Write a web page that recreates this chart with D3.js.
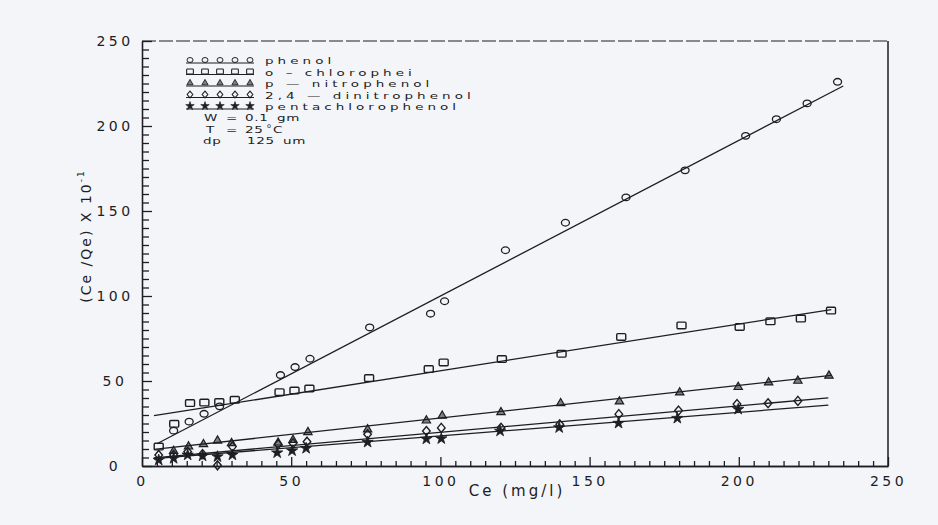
<!DOCTYPE html>
<html>
<head>
<meta charset="utf-8">
<script src="https://cdn.jsdelivr.net/npm/d3@7/dist/d3.min.js"></script>
<style>
  html, body { margin: 0; padding: 0; background: #f4f5f9; }
  svg { display: block; }
  text { font-family: "DejaVu Sans", sans-serif; fill: #1d1d24; }
</style>
</head>
<body>
<script>
// Adsorption isotherm data: Ce (mg/l) against Ce/Qe (x 10^-1)
const phenolCe   = [10.6, 15.8, 20.8, 26, 46.4, 51.3, 56.3, 76.3, 96.7, 101.4, 121.8, 141.9, 162.2, 182, 202.3, 212.6, 222.9, 233.1];
const phenolY    = [20.8, 26.1, 30.7, 35.1, 53.5, 58.2, 63.1, 81.5, 89.6, 96.9, 126.9, 143.1, 158, 173.9, 194.2, 204, 213.3, 226];

const chloroCe   = [5.6, 10.8, 16.1, 20.9, 25.9, 31.1, 46.1, 51.1, 56.1, 76.1, 96.1, 101.1, 120.6, 140.6, 160.6, 180.8, 200.3, 210.6, 220.8, 230.9];
const chloroY    = [11.4, 24.8, 37, 37.3, 37.6, 38.9, 43.4, 44.4, 45.6, 51.7, 57, 60.9, 62.9, 66, 75.9, 82.7, 81.8, 85.1, 86.7, 91.4];

const nitroCe    = [10.6, 15.6, 20.6, 25.3, 30, 45.6, 50.6, 55.6, 75.6, 95.3, 100.6, 120.3, 140.3, 160, 180.2, 199.8, 210, 219.8, 230.2];
const nitroY     = [8.8, 11.4, 12.8, 14.9, 13.4, 13.7, 15.3, 19.9, 21.5, 26.7, 29.5, 31.6, 36.9, 37.9, 43.2, 46.4, 49.1, 50.1, 53.1];

const dinitroCe  = [5.6, 10.6, 15.3, 20.3, 25.3, 30.3, 45.6, 50.6, 55.3, 75.6, 95.3, 100.3, 120.3, 140, 159.8, 179.8, 199.4, 209.8, 219.8];
const dinitroY   = [6.5, 6.5, 8.4, 7, 0.4, 11.4, 12.8, 13.4, 14.3, 18.7, 20.6, 22.4, 22.5, 24.5, 30.5, 32.6, 36.4, 36.9, 38.3];

const pentaCe    = [5.6, 10.6, 15.3, 20.3, 25.3, 30.3, 45.3, 50.3, 55, 75.6, 95.3, 100.3, 120, 139.8, 159.7, 179.4, 199.8];
const pentaY     = [3.5, 4.5, 6.5, 5.9, 5.5, 6.5, 7.8, 9, 10.4, 14, 15.9, 16.1, 20.6, 22.6, 25.2, 28.1, 33.4];

// Linear fits: [intercept, slope, first Ce, last Ce]
const phenolFit  = [8.5, 0.915, 5, 235];
const chloroFit  = [28.5, 0.275, 4, 231];
const nitroFit   = [9, 0.192, 4, 231];
const dinitroFit = [4.2, 0.156, 4, 230];
const pentaFit   = [3.8, 0.139, 4, 230];

const seriesNames = ["phenol", "o  \u2013  chlorophei", "p  \u2014  nitrophenol", "2,4  \u2014  dinitrophenol", "pentachlorophenol"];
const xTickLabels = [0, 50, 100, 150, 200, 250];
const yTickLabels = [0, 50, 100, 150, 200, 250];

const W = 938, H = 525;
const svg = d3.select("body").append("svg").attr("width", W).attr("height", H);

const x = d3.scaleLinear().domain([0, 250]).range([142, 888]);
const y = d3.scaleLinear().domain([0, 250]).range([466, 41]);

const ink = "#1d1d24";

// wide plotter-style lettering: a normal font stretched horizontally
function wideText(parent, tx, ty, str, size, spacing, sx) {
  return parent.append("text")
    .attr("transform", `translate(${tx},${ty}) scale(${sx},0.95)`)
    .attr("font-size", size).attr("letter-spacing", spacing).text(str);
}

// ---- axes ----
const gx = svg.append("g").attr("transform", `translate(0,${y(0)})`);
gx.call(d3.axisBottom(x).tickValues(d3.range(0, 251, 5).filter(v => v % 50 !== 0))
  .tickSize(-5).tickSizeOuter(0).tickFormat(""));
const gx2 = svg.append("g").attr("transform", `translate(0,${y(0)})`);
gx2.call(d3.axisBottom(x).tickValues(xTickLabels).tickSize(-9).tickSizeOuter(0).tickPadding(9)
  .tickFormat(d3.format("d")));
gx2.selectAll("text").attr("font-size", 14).attr("letter-spacing", 3.5)
  .attr("dy", "0.75em").style("font-family", "DejaVu Sans");

const gy = svg.append("g").attr("transform", `translate(${x(0)},0)`);
gy.call(d3.axisLeft(y).tickValues(d3.range(0, 251, 5).filter(v => v % 50 !== 0))
  .tickSize(-7).tickSizeOuter(0).tickFormat(""));
const gy2 = svg.append("g").attr("transform", `translate(${x(0)},0)`);
gy2.call(d3.axisLeft(y).tickValues(yTickLabels).tickSize(-10).tickSizeOuter(0).tickFormat(d3.format("d")));
gy2.selectAll("text").attr("font-size", 14).attr("letter-spacing", 3.5)
  .attr("text-anchor", "middle").attr("x", -27).style("font-family", "DejaVu Sans");

svg.selectAll(".domain, .tick line").attr("stroke", ink).attr("stroke-width", 1.3);
svg.selectAll(".tick text").attr("fill", ink);

// frame: dashed top, solid right
svg.append("line").attr("x1", x(0)).attr("x2", x(250)).attr("y1", y(250)).attr("y2", y(250))
  .attr("stroke", ink).attr("stroke-width", 1.2).attr("stroke-dasharray", "14,3");
svg.append("line").attr("x1", x(250)).attr("x2", x(250)).attr("y1", y(250)).attr("y2", y(0))
  .attr("stroke", ink).attr("stroke-width", 1.5);

// axis titles
svg.append("text").attr("x", 517).attr("y", 496).attr("text-anchor", "middle")
  .attr("font-size", 15).attr("letter-spacing", 3).text("Ce  (mg/l)");
const yt = svg.append("text").attr("transform", "translate(91,236) rotate(-90)")
  .attr("text-anchor", "middle").attr("font-size", 14).attr("letter-spacing", 2);
yt.append("tspan").text("(Ce /Qe) X 10");
yt.append("tspan").attr("font-size", 9).attr("dy", -7).text("-1");

// ---- marker shapes ----
function drawMarker(g, kind, cx, cy) {
  if (kind === 0) {
    g.append("ellipse").attr("cx", cx).attr("cy", cy).attr("rx", 4).attr("ry", 3.3)
      .attr("fill", "none").attr("stroke", ink).attr("stroke-width", 1.3);
  } else if (kind === 1) {
    g.append("rect").attr("x", cx - 4.5).attr("y", cy - 3.3).attr("width", 9).attr("height", 6.6)
      .attr("rx", 1).attr("fill", "none").attr("stroke", ink).attr("stroke-width", 1.4);
  } else if (kind === 2) {
    g.append("path").attr("d", d3.symbol(d3.symbolTriangle, 30)())
      .attr("transform", `translate(${cx},${cy})`)
      .attr("fill", ink).attr("fill-opacity", 0.55).attr("stroke", ink).attr("stroke-width", 1.2);
  } else if (kind === 3) {
    g.append("path").attr("d", `M${cx},${cy - 4.5}L${cx + 3.8},${cy}L${cx},${cy + 4.5}L${cx - 3.8},${cy}Z`)
      .attr("fill", "none").attr("stroke", ink).attr("stroke-width", 1.4);
  } else {
    g.append("path").attr("d", d3.symbol(d3.symbolStar, 40)())
      .attr("transform", `translate(${cx},${cy})`)
      .attr("fill", ink).attr("stroke", ink).attr("stroke-width", 0.8);
  }
}

const series = [
  { ce: phenolCe,  v: phenolY,  fit: phenolFit },
  { ce: chloroCe,  v: chloroY,  fit: chloroFit },
  { ce: nitroCe,   v: nitroY,   fit: nitroFit },
  { ce: dinitroCe, v: dinitroY, fit: dinitroFit },
  { ce: pentaCe,   v: pentaY,   fit: pentaFit }
];

const plot = svg.append("g");
const line = d3.line().x(d => x(d[0])).y(d => y(d[1]));
series.forEach((s, i) => {
  const [b, m, x0, x1] = s.fit;
  plot.append("path").datum([[x0, b + m * x0], [x1, b + m * x1]])
    .attr("d", line).attr("fill", "none").attr("stroke", ink).attr("stroke-width", 1.3);
  const g = plot.append("g");
  s.ce.forEach((c, j) => drawMarker(g, i, x(c), y(s.v[j])));
});

// ---- legend ----
const legend = svg.append("g");
const rowY = [60, 71.5, 83, 94.5, 106];
seriesNames.forEach((name, i) => {
  const ly = rowY[i];
  legend.append("line").attr("x1", 186).attr("x2", 254).attr("y1", ly + 3).attr("y2", ly + 3)
    .attr("stroke", ink).attr("stroke-width", 1);
  for (let k = 0; k < 5; k++) {
    const g = legend.append("g").attr("transform", `translate(${190 + k * 15},${ly}) scale(0.75)`);
    drawMarker(g, i, 0, 0);
  }
  wideText(legend, 265, ly + 4, name, 10, 3, 1.35);
});

// experimental conditions
const cond = [
  { y: 121, parts: [["W", 204], ["=", 226], ["0.1", 245], ["gm", 277]] },
  { y: 132.5, parts: [["T", 206], ["=", 226], ["25", 245]] },
  { y: 144, parts: [["dp", 203], ["125", 247], ["um", 283]] }
];
cond.forEach(r => r.parts.forEach(([t, px]) => wideText(legend, px, r.y, t, 10, 0.5, 1.35)));
legend.append("text").attr("x", 267).attr("y", 127.5).attr("font-size", 6.5).text("o");
wideText(legend, 273, 132.5, "C", 10, 0.5, 1.35);
</script>
</body>
</html>
